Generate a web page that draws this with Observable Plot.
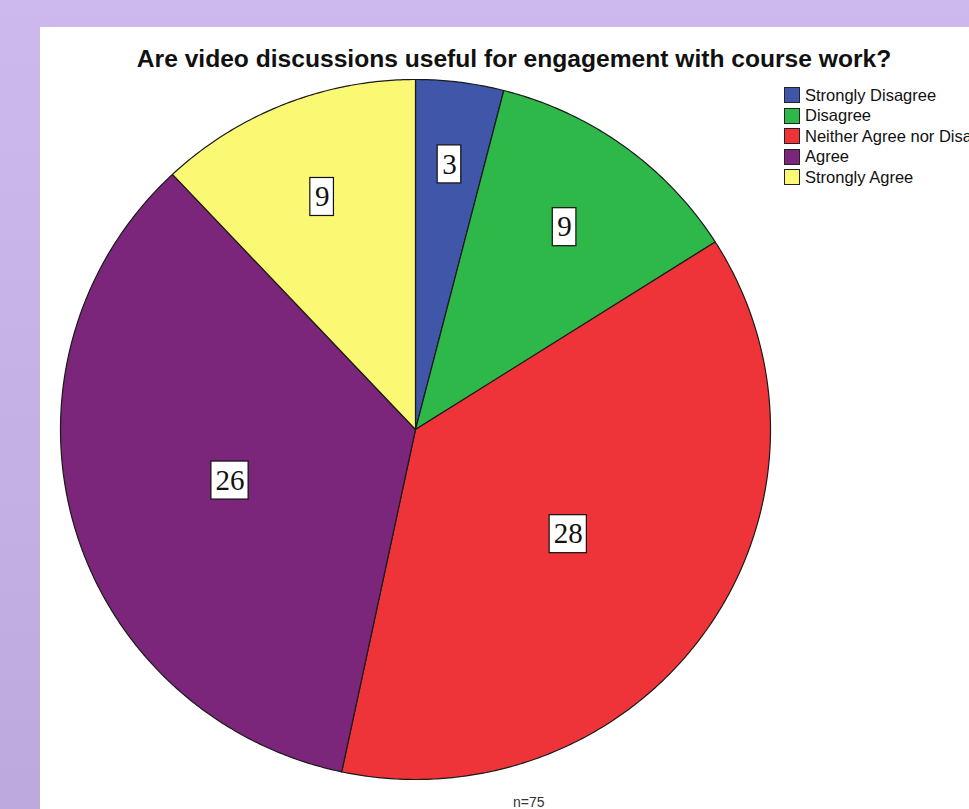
<!DOCTYPE html>
<html>
<head>
<meta charset="utf-8">
<script src="https://cdn.jsdelivr.net/npm/d3@7"></script>
<script src="https://cdn.jsdelivr.net/npm/@observablehq/plot@0.6"></script>
<style>
  html, body { margin: 0; padding: 0; width: 969px; height: 809px; overflow: hidden; }
  body { background: linear-gradient(#cdb9ee, #bea9df); font-family: "Liberation Sans", Arial, sans-serif; position: relative; }
  #panel { position: absolute; left: 40px; top: 27px; width: 929px; height: 782px; background: #fff; overflow: hidden; }
  #title { position: absolute; left: 0; top: 19px; width: 948px; text-align: center; font-weight: bold; font-size: 24.6px; line-height: 26px; color: #111; white-space: nowrap; }
  #legend { position: absolute; left: 744px; top: 58px; font-size: 16.5px; color: #111; white-space: nowrap; }
  .row { display: flex; align-items: center; height: 20.5px; }
  .sw { width: 14px; height: 14px; border: 1px solid #222; margin-right: 5px; }
  #note { position: absolute; left: 473px; top: 767px; font-size: 14px; color: #333; }
  #chart { position: absolute; left: 0; top: 0; }
</style>
</head>
<body>
<div id="panel">
  <div id="chart"></div>
  <div id="title"></div>
  <div id="legend"></div>
  <div id="note"></div>
</div>
<script>
const title = "Are video discussions useful for engagement with course work?";
const categories = ["Strongly Disagree", "Disagree", "Neither Agree nor Disagree", "Agree", "Strongly Agree"];
const counts = [3, 9, 28, 26, 9];
const colors = ["#3f56a9", "#2fb84a", "#ee3439", "#7b267b", "#fbf874"];
const note = "n=75";

document.getElementById("title").textContent = title;
document.getElementById("note").textContent = note;
const legend = document.getElementById("legend");
categories.forEach((c, i) => {
  const row = document.createElement("div");
  row.className = "row";
  const sw = document.createElement("div");
  sw.className = "sw";
  sw.style.background = colors[i];
  const t = document.createElement("span");
  t.textContent = c;
  row.appendChild(sw); row.appendChild(t);
  legend.appendChild(row);
});

// Pie geometry from the data (clockwise from 12 o'clock)
const arcs = d3.pie().sort(null).startAngle(0).endAngle(2 * Math.PI)(counts);
const polys = [];
arcs.forEach((a, i) => {
  const cat = categories[i];
  polys.push({cat, x: 0, y: 0});
  const n = Math.max(2, Math.ceil((a.endAngle - a.startAngle) / (Math.PI / 360)));
  for (let k = 0; k <= n; k++) {
    const t = a.startAngle + (a.endAngle - a.startAngle) * k / n;
    polys.push({cat, x: Math.sin(t), y: Math.cos(t)});
  }
  polys.push({cat, x: 0, y: 0});
});

const RX = 355, RY = 350; // pixel radii
const labels = arcs.map((a, i) => {
  const span = a.endAngle - a.startAngle;
  const half = span / 2;
  const mid = a.startAngle + half;
  const rc = 2 * Math.sin(half) / (3 * half); // slice centroid
  // narrow slices push their label further out
  const r = rc + 0.35 * (1 - rc) * Math.max(0, 1 - span / (Math.PI / 2));
  const txt = String(counts[i]);
  const hw = (5 + 6.8 * txt.length) / RX, hh = 19 / RY;
  const x = r * Math.sin(mid), y = r * Math.cos(mid);
  return {txt, x, y, x1: x - hw, x2: x + hw, y1: y - hh, y2: y + hh};
});

const W = 929, H = 782;
const chart = Plot.plot({
  width: W, height: H,
  marginLeft: 20, marginRight: W - 20 - 2 * RX,
  marginTop: 52, marginBottom: H - 52 - 2 * RY,
  x: {domain: [-1, 1], axis: null},
  y: {domain: [-1, 1], axis: null},
  color: {domain: categories, range: colors},
  marks: [
    Plot.line(polys, {x: "x", y: "y", z: "cat", fill: "cat", stroke: "#1a1a1a", strokeWidth: 1.2, curve: "linear", strokeLinejoin: "round"}),
    Plot.rect(labels, {x1: "x1", x2: "x2", y1: "y1", y2: "y2", fill: "white", stroke: "#111", strokeWidth: 1.2}),
    Plot.text(labels, {x: "x", y: "y", text: "txt", fontSize: 29, fontFamily: "Liberation Serif, Times New Roman, serif", fill: "#111"})
  ],
  style: {background: "transparent", overflow: "visible"}
});
document.getElementById("chart").appendChild(chart);
</script>
</body>
</html>
